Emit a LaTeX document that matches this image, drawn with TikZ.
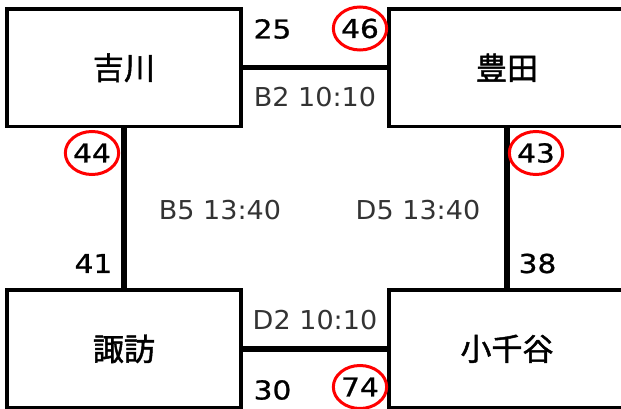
\documentclass[tikz,border=0pt]{standalone}
\usepackage{fontspec}
\usetikzlibrary{shapes.geometric}
\setmainfont{DejaVu Sans}
\newfontfamily\jpfont[FakeBold=1.4]{Noto Sans CJK JP}
\newfontfamily\numfont[FakeStretch=1.14,FakeBold=0.9]{DejaVu Sans}
\newfontfamily\lblfont[FakeStretch=1.04]{DejaVu Sans}
\begin{document}
\begin{tikzpicture}[x=1pt,y=-1pt,
  station/.style={draw=black,line width=3.3pt,minimum width=234pt,minimum height=117.5pt,inner sep=0pt,font=\jpfont\fontsize{31}{31}\selectfont},
  track/.style={line width=5.4pt},
  num/.style={inner sep=0pt,font=\numfont\fontsize{26}{26}\selectfont},
  ring/.style={num,draw=red,line width=3pt,ellipse,minimum width=51pt,minimum height=43pt,inner sep=0pt},
  trainlbl/.style={inner sep=0pt,text=black!80,font=\lblfont\fontsize{26}{26}\selectfont}]
\useasboundingbox (0,0) rectangle (621,409);
\clip (0,0) rectangle (621,409);
\fill[white] (0,0) rectangle (621,409);
\node[station] (yoshikawa) at (124,67.8) {吉川};
\node[station,minimum width=236pt] (toyota) at (507,67.8) {豊田};
\node[station] (suwa) at (124,348.8) {諏訪};
\node[station,minimum width=236pt] (ojiya) at (507,348.8) {小千谷};
\draw[track] (yoshikawa.east) -- (toyota.west);
\draw[track] (suwa.east) -- (ojiya.west);
\draw[track] (yoshikawa.south) -- (suwa.north);
\draw[track] (toyota.south) -- (ojiya.north);
\node[num] (n25) at (272.5,29) {25};
\node[ring] (n46) at (360,28.5) {46};
\node[trainlbl] (b2) at (315,97.5) {B2 10:10};
\node[ring] (n44) at (92,153) {44};
\node[ring] (n43) at (536,153) {43};
\node[trainlbl] (b5) at (220,210) {B5 13:40};
\node[trainlbl] (d5) at (418,210) {D5 13:40};
\node[num] (n41) at (93.5,263.5) {41};
\node[num] (n38) at (537.5,263.5) {38};
\node[trainlbl] (d2) at (315,320.5) {D2 10:10};
\node[num] (n30) at (272.5,390) {30};
\node[ring] (n74) at (360,387) {74};
\end{tikzpicture}
\end{document}
